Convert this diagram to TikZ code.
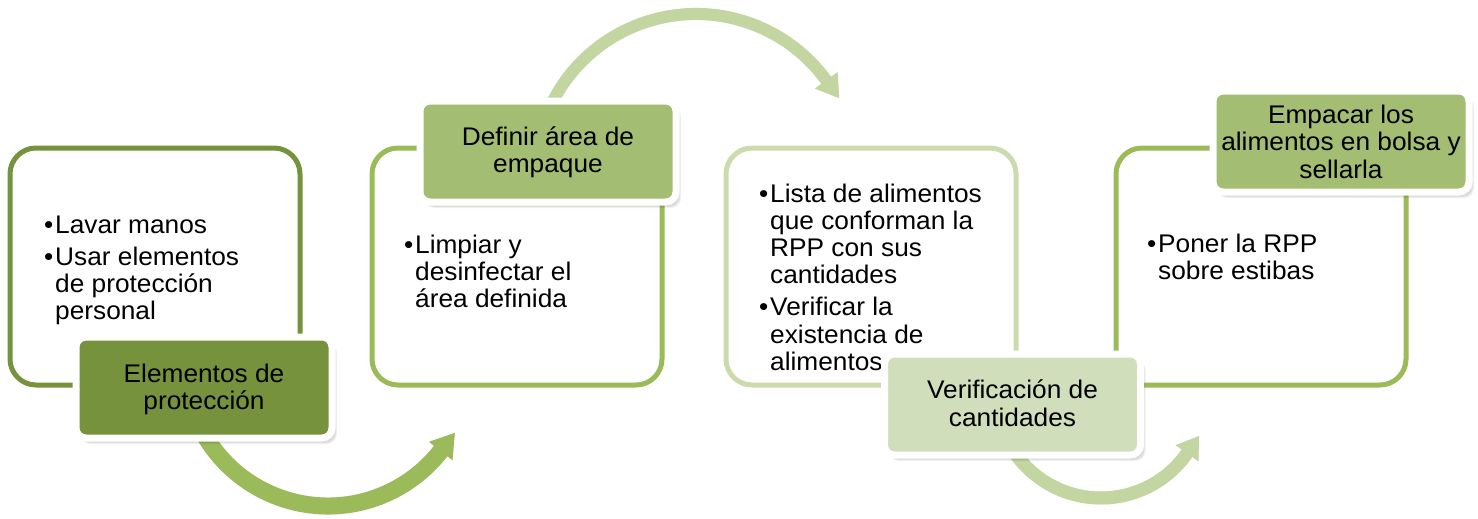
\documentclass[tikz,border=0pt]{standalone}
\usepackage{fontspec}
\setmainfont{Liberation Sans}[FakeStretch=1.03]
\usetikzlibrary{calc,shadows}
\definecolor{olive}{HTML}{76923C}
\definecolor{grn}{HTML}{9BBB59}
\definecolor{grnfill}{HTML}{A3BD72}
\definecolor{pale}{HTML}{CBDBAE}
\definecolor{palefill}{HTML}{D1DEBC}
\definecolor{arrowA}{HTML}{9BBA5A}
\definecolor{arrowB}{HTML}{C3D5A0}
\newlength\bw \setlength\bw{11pt}
\newcommand\bl[1]{\hbox{\makebox[\bw][l]{•}#1}}
\newcommand\cl[1]{\hbox{\hskip\bw #1}}
\newcommand\bgap{\vskip 5pt}
\newcommand\blk[1]{\vtop{\fontsize{25.5}{27.2}\selectfont\baselineskip=27.2pt\lineskiplimit=-100pt #1}}
\newcommand\lbl[1]{\vtop{\hsize=300pt\parindent=0pt\parskip=0pt\fontsize{25.5}{27.5}\selectfont\lineskiplimit=-100pt\centering #1\par}}
\begin{document}
\begin{tikzpicture}[x=1pt,y=1pt,
  box/.style={draw, line width=5pt, fill=white, rounded corners=26pt, minimum width=290pt, minimum height=237pt, inner sep=0pt},
  lab/.style={draw=white, line width=7pt, rounded corners=10pt, minimum width=256pt, minimum height=101pt, inner sep=0pt,
    drop shadow={shadow xshift=5pt, shadow yshift=-6pt, opacity=0.06, fill=black},
    drop shadow={shadow xshift=4pt, shadow yshift=-5pt, opacity=0.07, fill=black},
    drop shadow={shadow xshift=2.5pt, shadow yshift=-3.5pt, opacity=0.08, fill=black}},
  txt/.style={inner sep=0pt, anchor=base west},
  ltxt/.style={inner sep=0pt, anchor=base}]
\useasboundingbox (0,0) rectangle (1478,-519);
% outer boxes
\node[box, draw=olive] (b1) at (155,-266.5) {};
\node[box, draw=grn] (b2) at (517,-266.5) {};
\node[box, draw=pale] (b3) at (871,-266.5) {};
\node[box, draw=grn] (b4) at (1261,-266.5) {};
% box texts
\node[txt] (t1) at (44,-233) {\blk{\bl{Lavar manos}\bgap\bl{Usar elementos}\cl{de protección}\cl{personal}}};
\node[txt] (t2) at (404,-253) {\blk{\bl{Limpiar y}\cl{desinfectar el}\cl{área definida}}};
\node[txt] (t3) at (759,-202) {\blk{\bl{Lista de alimentos}\cl{que conforman la}\cl{RPP con sus}\cl{cantidades}\bgap\bl{Verificar la}\cl{existencia de}\cl{alimentos}}};
\node[txt] (t4) at (1147,-252) {\blk{\bl{Poner la RPP}\cl{sobre estibas}}};
% arrows
\coordinate (c1) at (328,-363);
\coordinate (c2) at (696,-175);
\coordinate (c3) at (1101,-393);
\begin{scope}[black, opacity=0.1, shift={(2,-3)}]
\draw[line width=17pt] ($(c1)+(205:143)$) arc[start angle=205, end angle=323, radius=143];
\fill ($(c1)+(322:128)$) -- ($(c1)+(322:158)$) -- ($(c1)+(322:143)+(52:23)$) -- cycle;
\draw[line width=12pt] ($(c2)+(155:161)$) arc[start angle=155, end angle=35, radius=161];
\fill ($(c2)+(36:147)$) -- ($(c2)+(36:175)$) -- ($(c2)+(36:161)+(-54:22)$) -- cycle;
\draw[line width=13pt] ($(c3)+(212:105)$) arc[start angle=212, end angle=326, radius=105];
\fill ($(c3)+(325:91)$) -- ($(c3)+(325:119)$) -- ($(c3)+(325:105)+(55:21)$) -- cycle;
\end{scope}
\draw[arrowA, line width=17pt] ($(c1)+(205:143)$) arc[start angle=205, end angle=323, radius=143];
\fill[arrowA] ($(c1)+(322:128)$) -- ($(c1)+(322:158)$) -- ($(c1)+(322:143)+(52:23)$) -- cycle;
\draw[arrowB, line width=12pt] ($(c2)+(155:161)$) arc[start angle=155, end angle=35, radius=161];
\fill[arrowB] ($(c2)+(36:147)$) -- ($(c2)+(36:175)$) -- ($(c2)+(36:161)+(-54:22)$) -- cycle;
\draw[arrowB, line width=13pt] ($(c3)+(212:105)$) arc[start angle=212, end angle=326, radius=105];
\fill[arrowB] ($(c3)+(325:91)$) -- ($(c3)+(325:119)$) -- ($(c3)+(325:105)+(55:21)$) -- cycle;
% labels
\node[lab, fill=olive] (l1) at (204,-387.5) {};
\node[lab, fill=grnfill] (l2) at (548,-151.5) {};
\node[lab, fill=palefill] (l3) at (1012.5,-404.5) {};
\node[lab, fill=grnfill] (l4) at (1341,-141.5) {};
\node[ltxt] (lt1) at (204,-382) {\lbl{Elementos de\\protección}};
\node[ltxt] (lt2) at (548,-145) {\lbl{Definir área de\\empaque}};
\node[ltxt] (lt3) at (1012.5,-398.5) {\lbl{Verificación de\\cantidades}};
\node[ltxt] (lt4) at (1341,-123) {\lbl{Empacar los\\alimentos en bolsa y\\sellarla}};
\end{tikzpicture}
\end{document}
